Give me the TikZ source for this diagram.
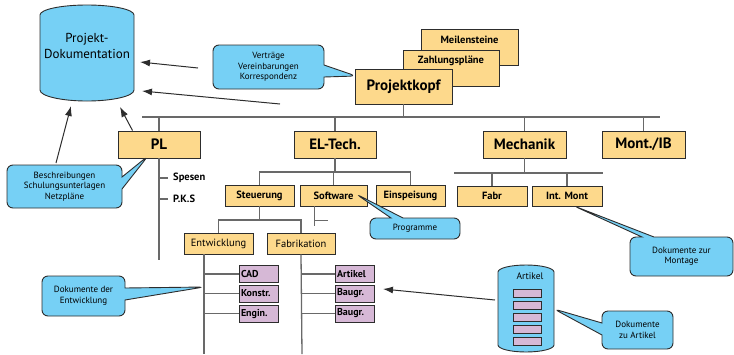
\documentclass[tikz,border=0pt]{standalone}
\usepackage{fontspec}
\setmainfont{PT Sans}
\usetikzlibrary{shapes.callouts,arrows.meta,calc}
\definecolor{ybox}{RGB}{253,217,140}
\definecolor{bcall}{RGB}{118,208,245}
\definecolor{pbox}{RGB}{214,184,214}
\definecolor{lgray}{RGB}{105,105,105}
\definecolor{dline}{RGB}{45,45,45}
\tikzset{
  yel/.style={draw=dline, fill=ybox, line width=0.9pt, inner sep=0pt},
  bigt/.style={font=\fontsize{15}{16}\bfseries\selectfont},
  smallb/.style={font=\fontsize{10.5}{12}\bfseries\selectfont},
  smallr/.style={font=\fontsize{10.5}{12}\selectfont},
  pur/.style={draw=dline, fill=pbox, line width=0.9pt, text width=35pt, inner xsep=2pt, inner ysep=0pt,
     minimum height=17pt, align=left, font=\fontsize{10}{11}\bfseries\selectfont},
  tree/.style={draw=lgray, line width=1.3pt},
  arr/.style={draw=dline, line width=1pt, -{Latex[length=10pt,width=7pt]}},
  call/.style={rectangle callout, draw=dline, fill=bcall, line width=0.9pt, rounded corners=6pt,
     callout pointer width=12pt, align=center, inner sep=0pt,
     font=\fontsize{9}{10.5}\selectfont},
  cyl/.style={draw=dline, fill=bcall, line width=0.9pt},
}
\begin{document}
\begin{tikzpicture}[x=1pt,y=-1pt]
\useasboundingbox (0,0) rectangle (734,354);

% Projekt-Dokumentation cylinder
\draw[cyl] (40,15) -- (40,90) arc[start angle=180,end angle=360,x radius=47pt,y radius=11pt]
  -- (134,15) arc[start angle=0,end angle=180,x radius=47pt,y radius=10pt] -- cycle;
\node[minimum width=94pt, minimum height=96pt, align=center, font=\fontsize{13}{15.5}\selectfont] (doc) at (87,46) {Projekt-\\Dokumentation};
\coordinate (dA) at (140,62);
\coordinate (dB) at (142,91);
\coordinate (dC) at (120,107);
\coordinate (dD) at (71,106);

% Projektkopf stack
\node[yel, minimum width=97pt, minimum height=36pt] (meil) at (469.5,47) {};
\node[smallb] (meilt) at ($(meil.north)+(0,11)$) {Meilensteine};
\node[yel, minimum width=96pt, minimum height=36pt] (zahl) at (451,68) {};
\node[smallb] (zahlt) at ($(zahl.north)+(0,11)$) {Zahlungspläne};
\node[yel, bigt, minimum width=97pt, minimum height=35pt] (kopf) at (403.5,86.5) {Projektkopf};

% first level
\coordinate (barL) at (142,117);
\coordinate (barR) at (660,117);
\node[yel, bigt, minimum width=82pt, minimum height=27pt] (pl) at (159,144.5) {PL};
\node[yel, bigt, minimum width=82pt, minimum height=27pt] (el) at (335,144.5) {EL-Tech.};
\node[yel, bigt, minimum width=83pt, minimum height=27pt] (mech) at (524.5,144.5) {Mechanik};
\node[yel, bigt, minimum width=83pt, minimum height=27pt] (mont) at (643.5,144.5) {Mont./IB};
\draw[tree] (barL) -- (barR);
\draw[tree] (kopf.south) -- (kopf.south |- barL);
\foreach \n in {pl,el,mech,mont} \draw[tree] (\n.north) -- (\n.north |- barL);

% PL branch
\coordinate (plend) at (159,260);
\draw[tree] (pl.south) -- (plend);
\node[smallb, anchor=west, inner sep=0pt] (spes) at (173,178) {Spesen};
\node[smallb, anchor=west, inner sep=0pt] (pks) at (173,199) {P.K.S};
\draw[tree] (pl.south |- spes.west) -- ++(9,0);
\draw[tree] (pl.south |- pks.west) -- ++(9,0);

% EL-Tech branch
\node[yel, smallb, minimum width=69pt, minimum height=21pt] (steu) at (259.5,195.5) {Steuerung};
\node[yel, smallb, minimum width=67pt, minimum height=21pt] (soft) at (333.5,195.5) {Software};
\node[yel, smallb, minimum width=69pt, minimum height=21pt] (einsp) at (410.5,195.5) {Einspeisung};
\coordinate (elbar) at (335,172);
\draw[tree] (el.south) -- (elbar);
\draw[tree] (steu.north) |- (elbar) -| (einsp.north);
\draw[tree] (soft.north) -- (soft.north |- elbar);
\draw[tree] ($(soft.south west)+(15,0)$) -- ++(0,20);
\draw[tree] ($(soft.south west)+(15,14)$) -- ++(13,0);

\node[yel, smallr, minimum width=69pt, minimum height=21pt] (entw) at (218.5,243.5) {Entwicklung};
\node[yel, smallr, minimum width=68pt, minimum height=21pt] (fab) at (301,243.5) {Fabrikation};
\coordinate (stbar) at (259.5,220);
\draw[tree] (steu.south) -- (stbar);
\draw[tree] (entw.north) |- (stbar) -| (fab.north);

\coordinate (entwend) at (204,354);
\coordinate (fabend) at (302,354);
\draw[tree] (entwend |- entw.south) -- (entwend);
\draw[tree] (fab.south) -- (fabend);

\node[pur] (cad) at (258.5,274) {CAD};
\node[pur] (kons) at (258.5,293.5) {Konstr.};
\node[pur] (engin) at (258.5,313.5) {Engin.};
\node[pur] (art) at (354.5,274) {Artikel};
\node[pur] (bg1) at (354.5,293.5) {Baugr.};
\node[pur] (bg2) at (354.5,313.5) {Baugr.};
\foreach \n in {cad,kons,engin} \draw[tree] (entwend |- \n.west) -- (\n.west);
\foreach \n in {art,bg1,bg2} \draw[tree] (fabend |- \n.west) -- (\n.west);

% Mechanik branch
\node[yel, smallb, minimum width=70pt, minimum height=20pt] (fabr) at (492,196) {Fabr};
\node[yel, smallb, minimum width=70pt, minimum height=20pt] (intm) at (567,196) {Int. Mont};
\coordinate (mbarL) at (454,173);
\coordinate (mbarR) at (603,173);
\draw[tree] (mech.south) -- (mech.south |- mbarL);
\draw[tree] (mbarL) -- (mbarR);
\draw[tree] (fabr.north) -- (fabr.north |- mbarL);
\draw[tree] (intm.north) -- (intm.north |- mbarL);

% Artikel cylinder
\draw[cyl] (498,272) -- (498,345) arc[start angle=180,end angle=360,x radius=28pt,y radius=7pt]
  -- (554,272) arc[start angle=0,end angle=180,x radius=28pt,y radius=7pt] -- cycle;
\node[font=\fontsize{9.5}{10}\selectfont] (artdb) at (530,276) {Artikel};
\foreach \yy/\nm in {293/r1,305/r2,317/r3,329/r4,341/r5}
  \node[draw=dline, fill=pbox, line width=0.8pt, minimum width=28pt, minimum height=8pt, inner sep=0pt] (\nm) at (527,\yy) {};
\coordinate (artL) at (495,300);
\coordinate (artR) at (555,309);
\coordinate (bgtip) at (383,289);

% arrows
\draw[arr] (198,68) -- (dA);
\draw[arr] (280,104) -- (dB);
\draw[arr] ($(pl.north west)+(15,0)$) -- (dC);
\draw[arr] (artL) -- (bgtip);

% callouts
\node[call, minimum width=111pt, minimum height=44pt, callout absolute pointer={(356,76)}] (c1) at (268.5,67) {Verträge\\Vereinbarungen\\Korrespondenz};
\node[call, minimum width=115pt, minimum height=43pt, callout absolute pointer={(148,156)}] (c2) at (64.5,186.5) {Beschreibungen\\Schulungsunterlagen\\Netzpläne};
\draw[arr] (56,163) -- (dD);
\node[call, minimum width=90pt, minimum height=21pt, callout absolute pointer={(356,194)}] (c3) at (415,228.5) {Programme};
\node[call, minimum width=103pt, minimum height=39pt, callout absolute pointer={(574,206)}] (c4) at (681.5,256.5) {Dokumente zur\\Montage};
\node[call, minimum width=83pt, minimum height=40pt, callout absolute pointer={(204,287)}] (c5) at (83.5,296) {Dokumente der\\Entwicklung};
\node[call, minimum width=71pt, minimum height=38pt, callout absolute pointer={(554,309)}] (c6) at (637.5,330) {Dokumente\\zu Artikel};
\end{tikzpicture}
\end{document}
